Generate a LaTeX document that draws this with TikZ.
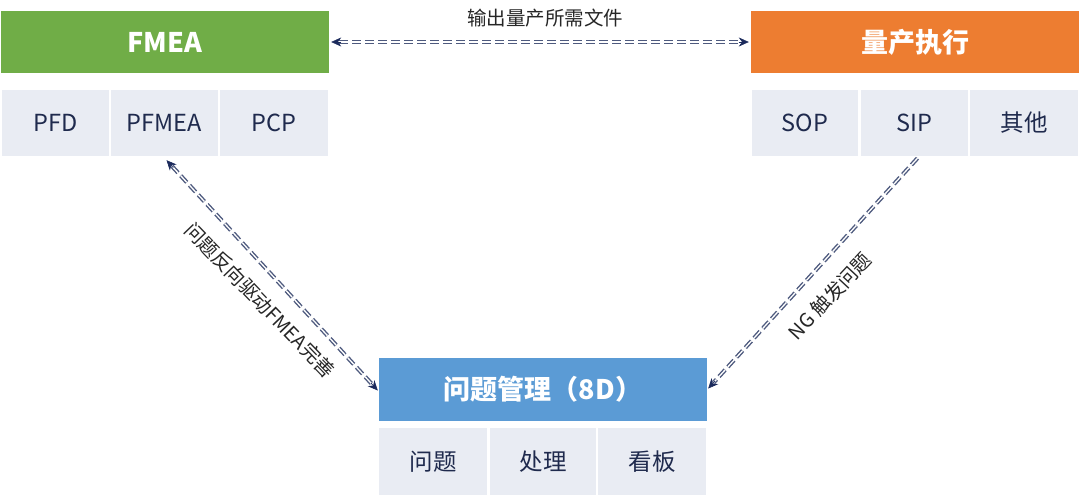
\documentclass[tikz,border=0pt]{standalone}
\usepackage{fontspec}
\setmainfont{Noto Sans CJK SC}
\usetikzlibrary{arrows.meta,calc}
\definecolor{gr}{HTML}{70AD47}
\definecolor{orC}{HTML}{ED7D31}
\definecolor{blC}{HTML}{5B9BD5}
\definecolor{subC}{HTML}{E9ECF3}
\definecolor{txC}{HTML}{1F2A4D}
\definecolor{lnC}{HTML}{4E5A7E}
\definecolor{tipC}{HTML}{1B2A5C}
\tikzset{
  head/.style={inner sep=0pt, text=white, font=\fontsize{27}{30}\selectfont\bfseries, minimum height=62pt},
  sub/.style={inner sep=0pt, fill=subC, text=txC, font=\fontsize{23.5}{27}\selectfont, minimum height=66pt},
  dline/.style={draw=lnC, line width=1.4pt, double=white, double distance=1.3pt, dash pattern=on 9pt off 4pt},
  tip/.style={draw=tipC, fill=tipC, line width=0.6pt, -{Stealth[length=10pt,width=9pt]}},
  lab/.style={inner sep=0pt, text=black!85, font=\fontsize{19.5}{22}\selectfont}
}
\begin{document}
\begin{tikzpicture}[x=1pt,y=-1pt]
\useasboundingbox[fill=white] (0,0) rectangle (1080,501);
% top-left group
\node[head, fill=gr, minimum width=328pt] (fmea) at (165,42) {FMEA};
\node[sub, minimum width=107pt] (pfd) at (55.5,123) {PFD};
\node[sub, minimum width=107pt] (pfmea) at (164.5,123) {PFMEA};
\node[sub, minimum width=108pt] (pcp) at (274,123) {PCP};
% top-right group
\node[head, fill=orC, minimum width=328pt] (mp) at (915,42) {量产执行};
\node[sub, minimum width=106pt] (sop) at (805,123) {SOP};
\node[sub, minimum width=107pt] (sip) at (914.5,123) {SIP};
\node[sub, minimum width=108pt] (oth) at (1024,123) {其他};
% bottom group
\node[head, fill=blC, minimum width=328pt, minimum height=63pt] (d8) at (543,389.5) {问题管理（8D）};
\node[sub, minimum width=108pt, minimum height=67pt] (q) at (433,461.5) {问题};
\node[sub, minimum width=106pt, minimum height=67pt] (cl) at (543,461.5) {处理};
\node[sub, minimum width=108pt, minimum height=67pt] (kb) at (652,461.5) {看板};
% connector end points
\coordinate (a1) at ($(fmea.east)+(2,0)$);
\coordinate (a2) at ($(mp.west)+(-2,0)$);
\coordinate (b1) at ($(pfmea.south)+(2,4)$);
\coordinate (b2) at ($(d8.west)+(-1,1)$);
\coordinate (c1) at ($(sip.south)+(3,2)$);
\coordinate (c2) at ($(d8.east)+(1,-1)$);
% top connector
\draw[dline, shorten <=8pt, shorten >=8pt] (a1) -- (a2);
\draw[tip] ($(a1)!10pt!(a2)$) -- (a1);
\draw[tip] ($(a2)!10pt!(a1)$) -- (a2);
\node[lab] (t1) at (545,18) {输出量产所需文件};
% left diagonal
\draw[dline, shorten <=8pt, shorten >=8pt] (b1) -- (b2);
\draw[tip] ($(b1)!10pt!(b2)$) -- (b1);
\draw[tip] ($(b2)!10pt!(b1)$) -- (b2);
\node[lab, rotate=-46] (t2) at (260,300) {问题反向驱动FMEA完善};
% right diagonal
\draw[dline, shorten >=8pt] (c1) -- (c2);
\draw[tip] ($(c2)!10pt!(c1)$) -- (c2);
\node[lab, rotate=47] (t3) at (830,296) {NG 触发问题};
\end{tikzpicture}
\end{document}
